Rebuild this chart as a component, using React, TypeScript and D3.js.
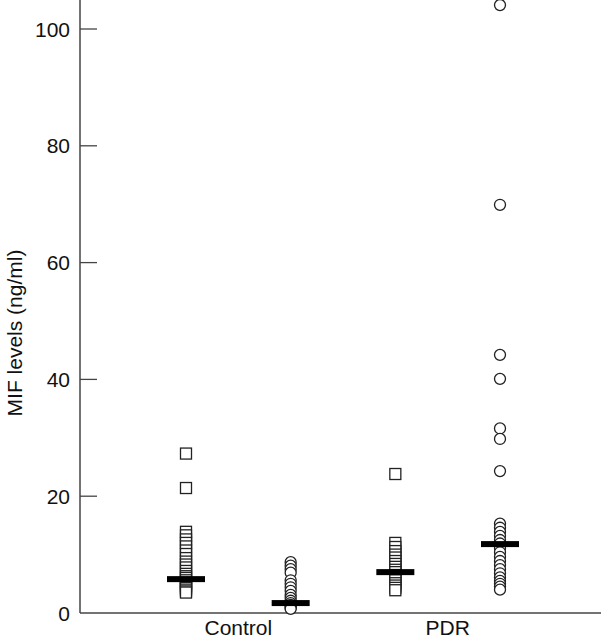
import React from "react";
import * as d3 from "d3";

const categories = ["Control", "PDR"];
const groupKeys = ["Control-square", "Control-circle", "PDR-square", "PDR-circle"];
const groupShapes = ["square", "circle", "square", "circle"];

const controlSquares = [27.3, 21.4, 13.9, 13.3, 12.6, 12.0, 11.4, 10.7, 10.1, 9.4, 8.8, 8.3, 7.8, 7.2, 6.7, 6.3, 6.0, 5.6, 5.2, 4.9, 4.6, 4.3, 4.0, 3.7, 3.5];
const controlCircles = [8.7, 8.1, 7.5, 6.9, 5.6, 5.0, 4.4, 3.8, 3.1, 2.6, 2.1, 1.7, 1.4, 1.1, 0.9, 0.7];
const pdrSquares = [23.8, 12.0, 11.3, 10.6, 10.0, 9.5, 8.9, 8.4, 7.9, 7.4, 7.0, 6.5, 6.0, 5.6, 5.1, 4.7, 4.3, 3.9];
const pdrCircles = [104.1, 69.9, 44.2, 40.1, 31.6, 29.8, 24.3, 15.3, 14.6, 13.9, 13.2, 12.5, 11.9, 11.1, 10.4, 9.6, 8.9, 8.2, 7.5, 6.8, 6.1, 5.5, 5.0, 4.5, 4.0];
const groupValues = [controlSquares, controlCircles, pdrSquares, pdrCircles];
const groupCenters = [5.8, 1.7, 7.0, 11.8];

const yTicks = [0, 20, 40, 60, 80, 100];
const yLabel = "MIF levels (ng/ml)";

const W = 601;
const H = 639;
const axisX = 80;
const axisY = 613;

export default function App() {
  const y = d3.scaleLinear().domain([0, 100]).range([axisY, 29]);
  const x = d3.scalePoint<string>().domain(groupKeys).range([186, 500]);
  const font = "'Liberation Sans', Arial, Helvetica, sans-serif";
  const sq = 11;
  const r = 5.5;
  const barW = 38;
  const barH = 6;

  return (
    <svg width={W} height={H} style={{ position: "absolute", left: 0, top: 0, background: "#fff" }} fontFamily={font}>
      <rect x={0} y={0} width={W} height={H} fill="#fff" />
      <line x1={axisX} y1={0} x2={axisX} y2={axisY} stroke="#444" strokeWidth={1.5} />
      <line x1={axisX} y1={axisY} x2={W} y2={axisY} stroke="#444" strokeWidth={1.5} />
      {yTicks.map((t) => (
        <g key={t}>
          {t !== 0 && <line x1={axisX} x2={axisX + 17} y1={y(t)} y2={y(t)} stroke="#444" strokeWidth={1.3} />}
          <text x={70} y={y(t)} dy="0.36em" textAnchor="end" fontSize={21} fill="#111">
            {t}
          </text>
        </g>
      ))}
      <text transform={`translate(22,333) rotate(-90)`} textAnchor="middle" fontSize={21} fill="#111">
        {yLabel}
      </text>
      {categories.map((c, i) => {
        const cx = ((x(groupKeys[2 * i]) as number) + (x(groupKeys[2 * i + 1]) as number)) / 2;
        return (
          <text key={c} x={cx} y={639 - 4} textAnchor="middle" fontSize={21} fill="#111">
            {c}
          </text>
        );
      })}
      {groupKeys.map((k, gi) => {
        const cx = x(k) as number;
        const vals = groupValues[gi];
        return (
          <g key={k}>
            {vals.map((v, i) =>
              groupShapes[gi] === "square" ? (
                <rect key={i} x={cx - sq / 2} y={y(v) - sq / 2} width={sq} height={sq} fill="#fff" stroke="#222" strokeWidth={1.3} />
              ) : (
                <circle key={i} cx={cx} cy={y(v)} r={r} fill="#fff" stroke="#222" strokeWidth={1.3} />
              )
            )}
            <rect x={cx - barW / 2} y={y(groupCenters[gi]) - barH / 2} width={barW} height={barH} fill="#000" />
          </g>
        );
      })}
    </svg>
  );
}
